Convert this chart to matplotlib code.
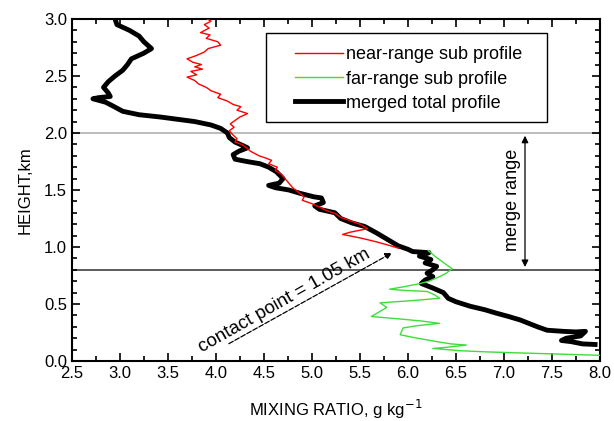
import numpy as np
import matplotlib.pyplot as plt
from matplotlib.ticker import MultipleLocator
from matplotlib.patches import Rectangle

plt.rcParams['font.family'] = ['Liberation Sans', 'DejaVu Sans']

# merged total profile (mixing ratio g/kg, height km)
merged_x = [2.95, 2.97, 3.10, 3.20, 3.25, 3.33, 3.25, 3.12, 3.08, 3.03, 2.95, 2.88, 2.83, 2.88, 2.90,
            2.78, 2.72, 2.85, 2.92, 3.03, 3.20, 3.42, 3.60, 3.78, 3.95, 4.05, 4.12, 4.14, 4.20, 4.28,
            4.33, 4.24, 4.18, 4.20, 4.32, 4.46, 4.55, 4.63, 4.70, 4.66, 4.55, 4.62, 4.76, 4.88, 5.02,
            5.10, 5.12, 5.03, 5.08, 5.24, 5.30, 5.42, 5.55, 5.68, 5.80, 5.90, 6.00, 6.05, 6.22, 6.12,
            6.24, 6.18, 6.30, 6.26, 6.20, 6.26, 6.18, 6.14, 6.26, 6.37, 6.42, 6.50, 6.65, 6.80, 6.92,
            7.05, 7.17, 7.26, 7.35, 7.45, 7.62, 7.75, 7.85, 7.80, 7.65, 7.60, 7.70, 7.82, 7.95]
merged_h = [3.00, 2.95, 2.90, 2.85, 2.80, 2.74, 2.70, 2.65, 2.60, 2.55, 2.50, 2.45, 2.40, 2.35, 2.32,
            2.31, 2.30, 2.27, 2.24, 2.19, 2.16, 2.14, 2.12, 2.10, 2.07, 2.04, 2.00, 1.96, 1.92, 1.89,
            1.87, 1.84, 1.81, 1.77, 1.75, 1.73, 1.70, 1.66, 1.60, 1.56, 1.54, 1.52, 1.50, 1.47, 1.44,
            1.43, 1.39, 1.36, 1.33, 1.30, 1.25, 1.21, 1.18, 1.12, 1.06, 1.01, 0.98, 0.96, 0.95, 0.92,
            0.89, 0.86, 0.83, 0.80, 0.77, 0.74, 0.71, 0.68, 0.64, 0.60, 0.55, 0.52, 0.48, 0.45, 0.42,
            0.39, 0.36, 0.33, 0.30, 0.27, 0.26, 0.255, 0.26, 0.22, 0.20, 0.18, 0.17, 0.15, 0.145]

# near-range sub profile
near_x = [3.91, 3.95, 3.88, 3.93, 3.84, 3.94, 3.90, 4.02, 4.05, 3.92, 3.88, 3.80, 3.70, 3.76, 3.85,
          3.78, 3.86, 3.74, 3.80, 3.70, 3.78, 3.82, 3.90, 3.95, 4.05, 4.02, 4.12, 4.18, 4.26, 4.22,
          4.33, 4.25, 4.20, 4.15, 4.19, 4.14, 4.17, 4.22, 4.20, 4.27, 4.32, 4.36, 4.45, 4.52, 4.58,
          4.55, 4.64, 4.62, 4.68, 4.72, 4.76, 4.80, 4.86, 4.92, 4.90, 5.00, 5.08, 5.15, 5.25, 5.30,
          5.40, 5.50, 5.58, 5.40, 5.32, 5.50, 5.65, 5.78, 5.90]
near_h = [3.00, 2.98, 2.95, 2.92, 2.88, 2.86, 2.83, 2.80, 2.77, 2.74, 2.71, 2.68, 2.65, 2.62, 2.60,
          2.58, 2.56, 2.54, 2.51, 2.49, 2.46, 2.43, 2.40, 2.37, 2.34, 2.31, 2.28, 2.25, 2.23, 2.20,
          2.17, 2.14, 2.11, 2.08, 2.05, 2.02, 1.99, 1.95, 1.92, 1.90, 1.87, 1.84, 1.80, 1.78, 1.76,
          1.73, 1.70, 1.67, 1.64, 1.60, 1.56, 1.52, 1.48, 1.44, 1.41, 1.38, 1.35, 1.32, 1.29, 1.26,
          1.23, 1.20, 1.16, 1.13, 1.11, 1.08, 1.05, 1.02, 0.99]

# far-range sub profile
far_x = [6.21, 6.28, 6.36, 6.46, 6.40, 6.33, 6.22, 6.13, 5.95, 5.81, 5.95, 6.20, 6.28, 6.33, 6.05,
         5.71, 5.78, 5.70, 5.62, 5.90, 6.15, 6.33, 6.10, 5.95, 5.92, 6.10, 6.30, 6.45, 6.61, 6.40,
         6.26, 6.55, 6.82, 7.20, 7.60, 8.00]
far_h = [0.97, 0.92, 0.87, 0.81, 0.77, 0.74, 0.70, 0.68, 0.65, 0.63, 0.62, 0.61, 0.58, 0.55, 0.53,
         0.51, 0.47, 0.43, 0.39, 0.37, 0.35, 0.33, 0.31, 0.29, 0.23, 0.20, 0.17, 0.15, 0.14, 0.12,
         0.11, 0.09, 0.08, 0.07, 0.06, 0.05]

merge_top = 2.0
merge_bottom = 0.8

fig = plt.figure(figsize=(6.14, 4.21), dpi=100)
ax = fig.add_axes([0.117, 0.1425, 0.86, 0.8125])

ax.axhline(merge_top, color="#b0b0b0", lw=1.2, zorder=1)
ax.axhline(merge_bottom, color="#404040", lw=1.2, zorder=1)

ax.plot(near_x, near_h, color="red", lw=1, label="near-range sub profile", zorder=3)
ax.plot(far_x, far_h, color="#3ddd3d", lw=1, label="far-range sub profile", zorder=3)
ax.plot(merged_x, merged_h, color="black", lw=3.5, label="merged total profile", zorder=2)

# merge range arrow
ax.annotate("", xy=(7.22, merge_top), xytext=(7.22, merge_bottom),
            arrowprops=dict(arrowstyle="<|-|>", color="black", lw=0.9, mutation_scale=10))
ax.text(7.09, 1.41, "merge range", rotation=90, ha="center", va="center", fontsize=13)

# contact point arrow
ax.annotate("", xy=(5.86, 0.96), xytext=(4.11, 0.14),
            arrowprops=dict(arrowstyle="-|>", color="black", lw=0.9, linestyle=(0, (4, 1.5)),
                            mutation_scale=10))
ax.text(4.71, 0.53, "contact point = 1.05 km", rotation=29.5, ha="center", va="center",
        fontsize=13.5, rotation_mode="anchor")

ax.set_xlim(2.5, 8.0)
ax.set_ylim(0, 3.0)
ax.xaxis.set_major_locator(MultipleLocator(0.5))
ax.xaxis.set_minor_locator(MultipleLocator(0.25))
ax.yaxis.set_major_locator(MultipleLocator(0.5))
ax.yaxis.set_minor_locator(MultipleLocator(0.1))
ax.xaxis.set_major_formatter(plt.FormatStrFormatter("%.1f"))
ax.yaxis.set_major_formatter(plt.FormatStrFormatter("%.1f"))
ax.tick_params(which="both", direction="in", top=True, right=True, labelsize=12, width=1.2)
ax.tick_params(which="major", length=6)
ax.tick_params(which="minor", length=3.5)
for s in ax.spines.values():
    s.set_linewidth(1.5)

ax.set_xlabel("MIXING RATIO, g kg$^{-1}$", fontsize=12, labelpad=12)
ax.set_ylabel("HEIGHT,km", fontsize=12, labelpad=8)

# legend box drawn separately (it has extra blank space on the right)
box = Rectangle((0.367, 0.70), 0.533, 0.259, transform=ax.transAxes, fc="white",
                ec="black", lw=1.0, zorder=4)
ax.add_patch(box)
leg = ax.legend(loc="upper left", bbox_to_anchor=(0.422, 0.92), fontsize=13, frameon=False,
                handlelength=2.65, handletextpad=0.2, borderpad=0, labelspacing=0.4,
                borderaxespad=0)
leg.set_zorder(5)

fig.savefig("out.png", dpi=100)
